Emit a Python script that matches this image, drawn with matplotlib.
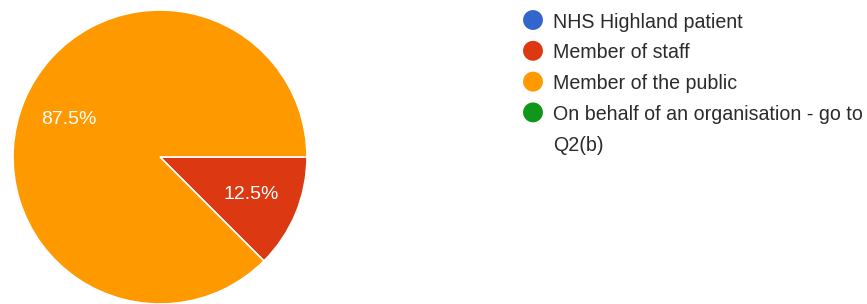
import matplotlib
matplotlib.use("Agg")
import matplotlib.pyplot as plt

plt.rcParams['font.family'] = ['Liberation Sans', 'DejaVu Sans']

# data
categories = ["NHS Highland patient", "Member of staff", "Member of the public",
              "On behalf of an organisation - go to\nQ2(b)"]
shares = [0.0, 12.5, 87.5, 0.0]
colors = ["#3366CC", "#DC3912", "#FF9900", "#109618"]

W, H = 867, 304
fig = plt.figure(figsize=(W / 100, H / 100), dpi=100)
ax = fig.add_axes([13 / W, 0, 294 / W, 294 / H])

# only slices with a value are drawn in the pie
pie_vals = [v for v in shares if v > 0]
pie_cols = [c for v, c in zip(shares, colors) if v > 0]
wedges, texts, autotexts = ax.pie(pie_vals, colors=pie_cols, startangle=0, counterclock=False,
                                  autopct='%1.1f%%', pctdistance=0.67,
                                  wedgeprops=dict(edgecolor='white', linewidth=1.2),
                                  textprops=dict(color='white', fontsize=14))
ax.set_aspect('equal')
ax.set_xlim(-1.0, 1.0)
ax.set_ylim(-1.0, 1.0)

# legend drawn by hand in pixel coordinates (marker on first line of each entry)
lax = fig.add_axes([0, 0, 1, 1])
lax.set_xlim(0, W)
lax.set_ylim(H, 0)
lax.axis('off')
row_h = 30.8
top = 20
row = 0
for lab, c in zip(categories, colors):
    y0 = top + row * row_h
    lax.scatter([533], [y0], s=205, color=c, edgecolors='none')
    for line in lab.split("\n"):
        lax.text(553, top + row * row_h, line, va='center_baseline', ha='left',
                 fontsize=14.1, color='#2b2b2b')
        row += 1

fig.savefig("out.png", dpi=100)
